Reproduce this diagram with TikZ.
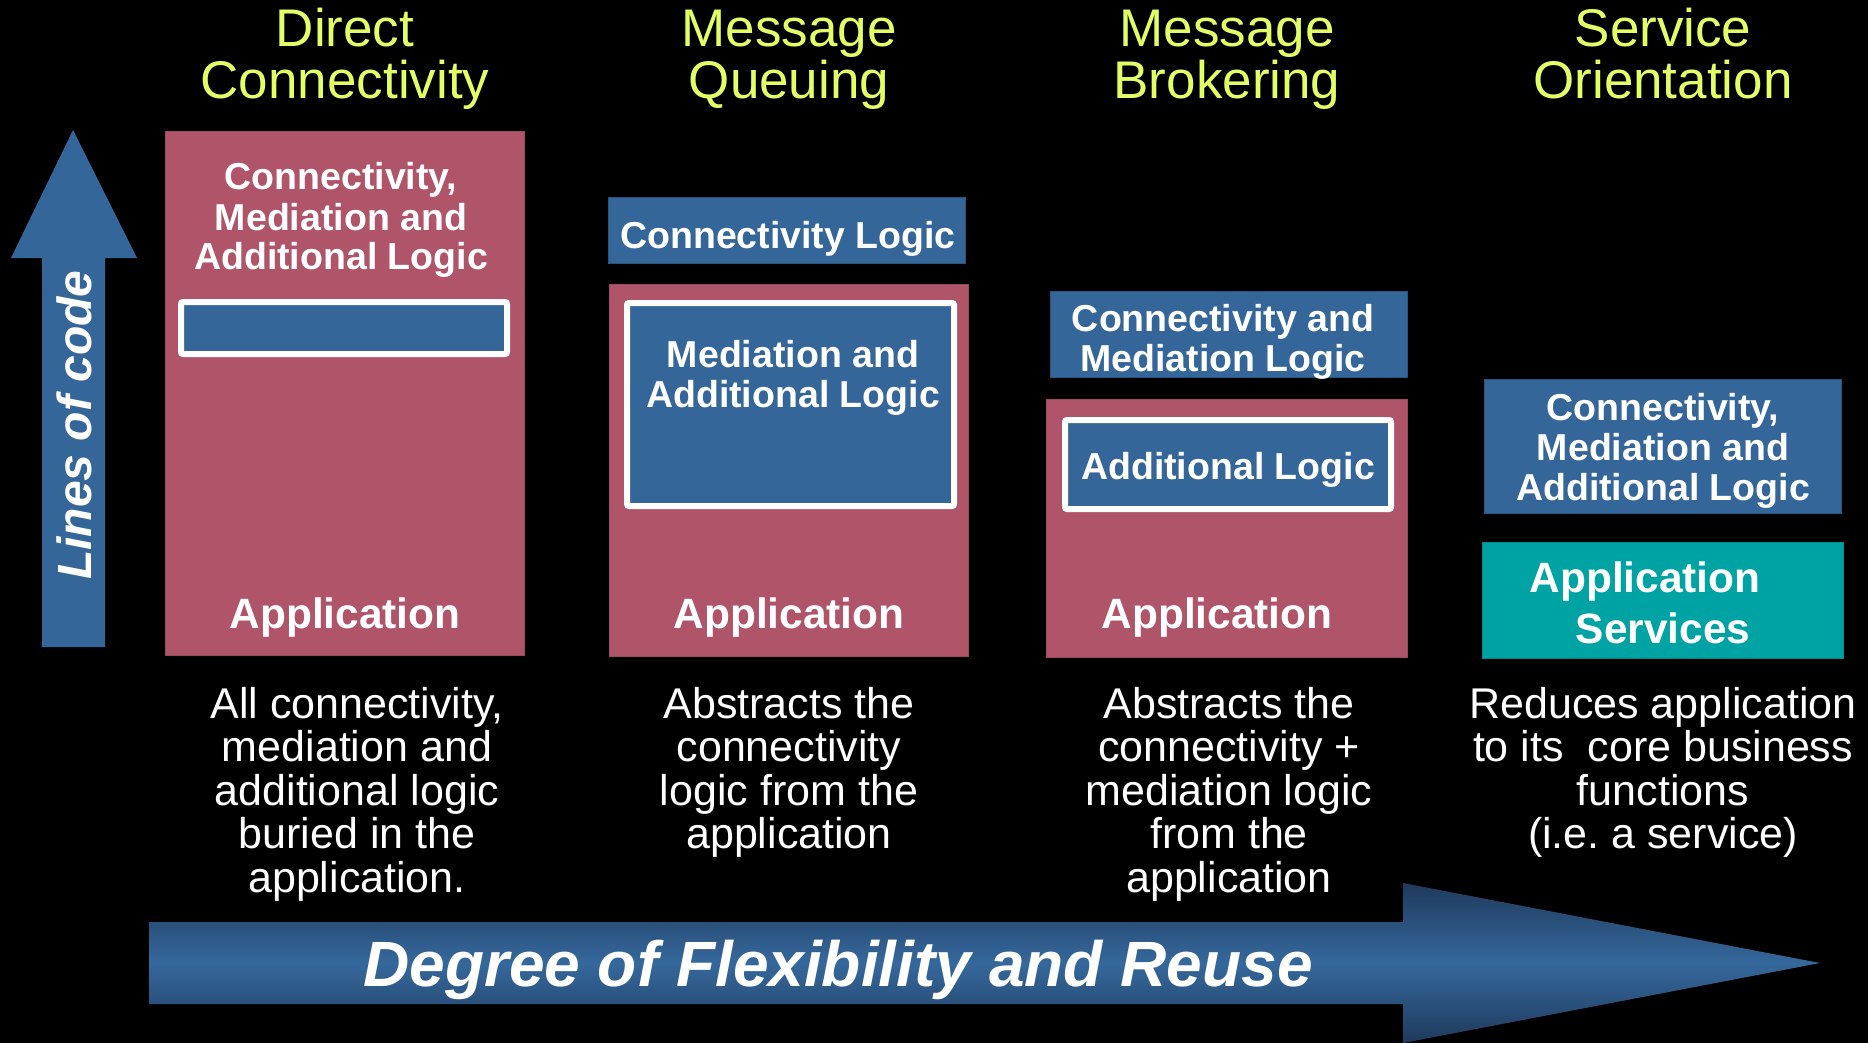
\documentclass[tikz,border=0pt]{standalone}
\usepackage{fontspec}
\setmainfont{Liberation Sans}
\frenchspacing
\definecolor{hdcol}{HTML}{E3FF66}
\definecolor{bluebox}{HTML}{346699}
\definecolor{blueedge}{HTML}{2A5480}
\definecolor{redbox}{HTML}{B0546A}
\definecolor{rededge}{HTML}{9A4A5E}
\definecolor{tealbox}{HTML}{00A3A3}
\definecolor{arrdark}{HTML}{1F3A5C}
\definecolor{arrmid}{HTML}{35689C}
\begin{document}
\begin{tikzpicture}[x=1pt,y=-1pt,
  every node/.style={inner sep=0pt,outer sep=0pt},
  hdtxt/.style={anchor=base,text=hdcol,font=\fontsize{53}{52}\selectfont},
  boxtxt/.style={anchor=base,text=white,font=\bfseries\fontsize{37.5}{40}\selectfont},
  apptxt/.style={anchor=base,text=white,font=\bfseries\fontsize{42.4}{46}\selectfont},
  desctxt/.style={anchor=base,text=white,font=\fontsize{43}{44}\selectfont},
  redrect/.style={rectangle,fill=redbox,draw=rededge,line width=1pt},
  bluerect/.style={rectangle,fill=bluebox,draw=blueedge,line width=1pt},
  framedrect/.style={rectangle,fill=bluebox,draw=white,line width=6pt,rounded corners=2pt},
  tealrect/.style={rectangle,fill=tealbox,draw=tealbox!85!black,line width=1pt}
]
\fill[black] (0,0) rectangle (1868,1043);
\useasboundingbox (0,0) rectangle (1868,1043);

% ---------- headings ----------
\node[hdtxt] (h1a) at (345,47) {Direct};
\node[hdtxt] (h1b) at (345,99) {Connectivity};
\node[hdtxt] (h2a) at (789,47) {Message};
\node[hdtxt] (h2b) at (789,99) {Queuing};
\node[hdtxt] (h3a) at (1227,47) {Message};
\node[hdtxt] (h3b) at (1227,99) {Brokering};
\node[hdtxt] (h4a) at (1663,47) {Service};
\node[hdtxt] (h4b) at (1663,99) {Orientation};

% ---------- lines of code arrow ----------
\fill[bluebox] (42,647) -- (42,258) -- (11,258) -- (73,130) -- (137,258)
  -- (105,258) -- (105,647) -- cycle;
\node[rotate=90,text=white,font=\bfseries\itshape\fontsize{48}{48}\selectfont] (loc) at (74,425) {Lines of code};

% ---------- column 1 ----------
\node[redrect,minimum width=359,minimum height=523] (b1) at (344.5,393.5) {};
\node[framedrect,minimum width=326,minimum height=52] (b1in) at (344,328) {};
\node[boxtxt] (b1t1) at (341,190) {Connectivity,};
\node[boxtxt] (b1t2) at (341,230) {Mediation and};
\node[boxtxt] (b1t3) at (341,269) {Additional Logic};
\node[apptxt] (b1app) at (345,628) {Application};

% ---------- column 2 ----------
\node[bluerect,minimum width=357,minimum height=65] (b2top) at (786.5,230.5) {};
\node[boxtxt] (b2t1) at (788,248) {Connectivity Logic};
\node[redrect,minimum width=359,minimum height=372] (b2) at (788.5,470) {};
\node[framedrect,minimum width=327,minimum height=203] (b2in) at (790.5,404.5) {};
\node[boxtxt] (b2t2) at (793,367) {Mediation and};
\node[boxtxt] (b2t3) at (793,407) {Additional Logic};
\node[apptxt] (b2app) at (789,628) {Application};

% ---------- column 3 ----------
\node[bluerect,minimum width=357,minimum height=86] (b3top) at (1228.5,334) {};
\node[boxtxt] (b3t1) at (1223,331) {Connectivity and};
\node[boxtxt] (b3t2) at (1223,371) {Mediation Logic};
\node[redrect,minimum width=361,minimum height=258] (b3) at (1226.5,528) {};
\node[framedrect,minimum width=326,minimum height=89] (b3in) at (1228,464.5) {};
\node[boxtxt] (b3t3) at (1228,479) {Additional Logic};
\node[apptxt] (b3app) at (1217,628) {Application};

% ---------- column 4 ----------
\node[bluerect,minimum width=357,minimum height=134] (b4) at (1662.5,446) {};
\node[boxtxt] (b4t1) at (1663,420) {Connectivity,};
\node[boxtxt] (b4t2) at (1663,460) {Mediation and};
\node[boxtxt] (b4t3) at (1663,500) {Additional Logic};
\node[tealrect,minimum width=361,minimum height=116] (b4s) at (1662.5,600) {};
\node[apptxt] (b4s1) at (1645,592) {Application};
\node[apptxt] (b4s2) at (1663,643) {Services};

% ---------- descriptions ----------
\node[desctxt] (d1a) at (357,718) {All connectivity,};
\node[desctxt] (d1b) at (357,761.5) {mediation and};
\node[desctxt] (d1c) at (357,805) {additional logic};
\node[desctxt] (d1d) at (357,848.5) {buried in the};
\node[desctxt] (d1e) at (357,892) {application.};

\node[desctxt] (d2a) at (789,718) {Abstracts the};
\node[desctxt] (d2b) at (789,761.5) {connectivity};
\node[desctxt] (d2c) at (789,805) {logic from the};
\node[desctxt] (d2d) at (789,848.5) {application};

\node[desctxt] (d3a) at (1229,718) {Abstracts the};
\node[desctxt] (d3b) at (1229,761.5) {connectivity +};
\node[desctxt] (d3c) at (1229,805) {mediation logic};
\node[desctxt] (d3d) at (1229,848.5) {from the};
\node[desctxt] (d3e) at (1229,892) {application};

\node[desctxt] (d4a) at (1663,718) {Reduces application};
\node[desctxt] (d4b) at (1663,761.5) {to its\ \ core business};
\node[desctxt] (d4c) at (1663,805) {functions};
\node[desctxt] (d4d) at (1663,848.5) {(i.e. a service)};

% ---------- flexibility arrow ----------
\shade[top color=arrdark,bottom color=arrdark,middle color=arrmid]
  (149,922) -- (1403,922) -- (1403,883) -- (1820,963) -- (1403,1043)
  -- (1403,1004) -- (149,1004) -- cycle;
\node[anchor=base,text=white,font=\bfseries\itshape\fontsize{64}{64}\selectfont] (flex) at (838,986) {Degree of Flexibility and Reuse};
\end{tikzpicture}
\end{document}
